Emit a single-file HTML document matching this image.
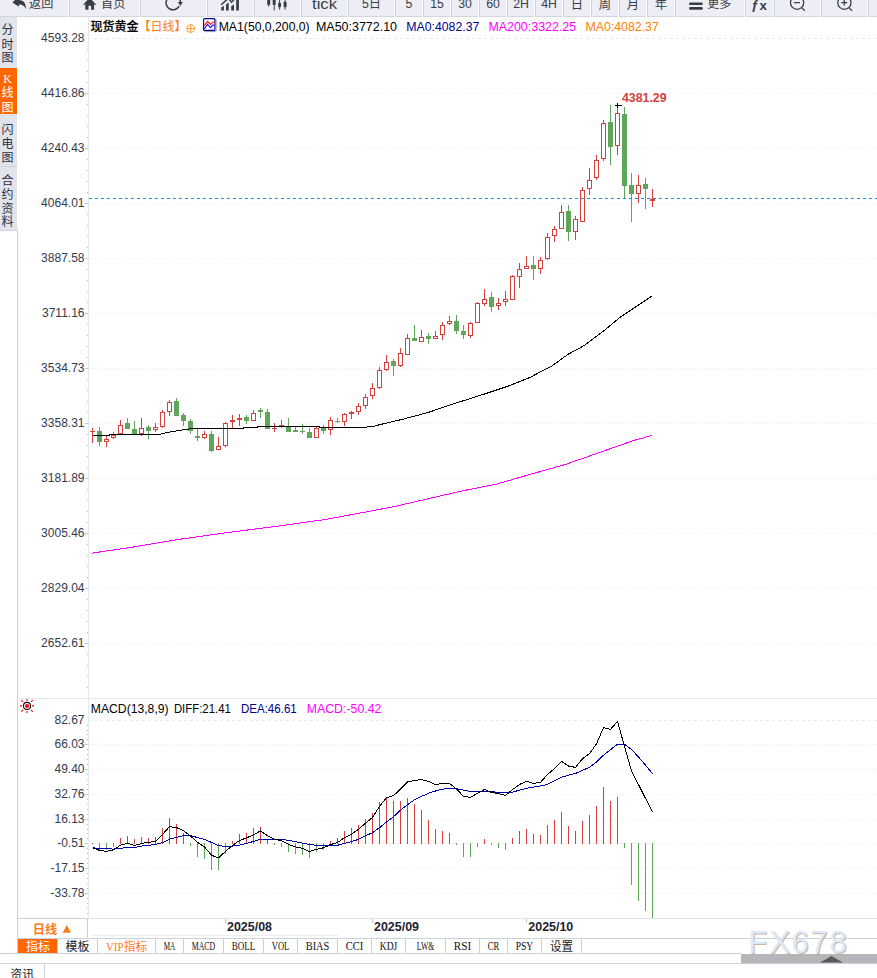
<!DOCTYPE html>
<html lang="zh"><head><meta charset="utf-8"><title>现货黄金 日线</title>
<style>html,body{margin:0;padding:0;background:#fff;overflow:hidden}svg{display:block}text{white-space:pre}</style></head>
<body>
<svg width="877" height="978" viewBox="0 0 877 978">
<rect x="0" y="0" width="877" height="978" fill="#fff"/>
<g shape-rendering="crispEdges">
<rect x="0" y="0" width="877" height="16" fill="#ecedf5"/>
<rect x="0" y="16" width="877" height="1" fill="#d3d6df"/>
<rect x="68" y="0" width="1" height="17" fill="#fbfbfd"/>
<rect x="69" y="0" width="1" height="16" fill="#cfd2db"/>
<rect x="139" y="0" width="1" height="17" fill="#fbfbfd"/>
<rect x="140" y="0" width="1" height="16" fill="#cfd2db"/>
<rect x="206" y="0" width="1" height="17" fill="#fbfbfd"/>
<rect x="207" y="0" width="1" height="16" fill="#cfd2db"/>
<rect x="253" y="0" width="1" height="17" fill="#fbfbfd"/>
<rect x="254" y="0" width="1" height="16" fill="#cfd2db"/>
<rect x="300" y="0" width="1" height="17" fill="#fbfbfd"/>
<rect x="301" y="0" width="1" height="16" fill="#cfd2db"/>
<rect x="347" y="0" width="1" height="17" fill="#fbfbfd"/>
<rect x="348" y="0" width="1" height="16" fill="#cfd2db"/>
<rect x="394" y="0" width="1" height="17" fill="#fbfbfd"/>
<rect x="395" y="0" width="1" height="16" fill="#cfd2db"/>
<rect x="422" y="0" width="1" height="17" fill="#fbfbfd"/>
<rect x="423" y="0" width="1" height="16" fill="#cfd2db"/>
<rect x="450" y="0" width="1" height="17" fill="#fbfbfd"/>
<rect x="451" y="0" width="1" height="16" fill="#cfd2db"/>
<rect x="478" y="0" width="1" height="17" fill="#fbfbfd"/>
<rect x="479" y="0" width="1" height="16" fill="#cfd2db"/>
<rect x="506" y="0" width="1" height="17" fill="#fbfbfd"/>
<rect x="507" y="0" width="1" height="16" fill="#cfd2db"/>
<rect x="534" y="0" width="1" height="17" fill="#fbfbfd"/>
<rect x="535" y="0" width="1" height="16" fill="#cfd2db"/>
<rect x="562" y="0" width="1" height="17" fill="#fbfbfd"/>
<rect x="563" y="0" width="1" height="16" fill="#cfd2db"/>
<rect x="590" y="0" width="1" height="17" fill="#fbfbfd"/>
<rect x="591" y="0" width="1" height="16" fill="#cfd2db"/>
<rect x="618" y="0" width="1" height="17" fill="#fbfbfd"/>
<rect x="619" y="0" width="1" height="16" fill="#cfd2db"/>
<rect x="646" y="0" width="1" height="17" fill="#fbfbfd"/>
<rect x="647" y="0" width="1" height="16" fill="#cfd2db"/>
<rect x="674" y="0" width="1" height="17" fill="#fbfbfd"/>
<rect x="675" y="0" width="1" height="16" fill="#cfd2db"/>
<rect x="744" y="0" width="1" height="17" fill="#fbfbfd"/>
<rect x="745" y="0" width="1" height="16" fill="#cfd2db"/>
<rect x="773" y="0" width="1" height="17" fill="#fbfbfd"/>
<rect x="774" y="0" width="1" height="16" fill="#cfd2db"/>
<rect x="820" y="0" width="1" height="17" fill="#fbfbfd"/>
<rect x="821" y="0" width="1" height="16" fill="#cfd2db"/>
<rect x="867" y="0" width="1" height="17" fill="#fbfbfd"/>
<rect x="868" y="0" width="1" height="16" fill="#cfd2db"/>
<rect x="0" y="17" width="17" height="213" fill="#e2e4ec"/>
<rect x="0" y="68" width="17" height="46" fill="#ff6600"/>
<rect x="0" y="166" width="17" height="1" fill="#d0d3dc"/>
<rect x="0" y="230" width="17" height="1" fill="#d0d3dc"/>
<rect x="17" y="230" width="1" height="724" fill="#c9d1da"/>
<rect x="88" y="17" width="1" height="902" fill="#e3e9f0"/>
<line x1="89" y1="38.5" x2="877" y2="38.5" stroke="#e3ebf1" stroke-width="1" stroke-dasharray="3 3" stroke-dashoffset="1"/>
<line x1="89" y1="93.5" x2="877" y2="93.5" stroke="#e6ebf0" stroke-width="1" stroke-dasharray="1 2"/>
<line x1="89" y1="148.5" x2="877" y2="148.5" stroke="#e6ebf0" stroke-width="1" stroke-dasharray="1 2"/>
<line x1="89" y1="203.5" x2="877" y2="203.5" stroke="#e6ebf0" stroke-width="1" stroke-dasharray="1 2"/>
<line x1="89" y1="258.5" x2="877" y2="258.5" stroke="#e6ebf0" stroke-width="1" stroke-dasharray="1 2"/>
<line x1="89" y1="313.5" x2="877" y2="313.5" stroke="#e6ebf0" stroke-width="1" stroke-dasharray="1 2"/>
<line x1="89" y1="368.5" x2="877" y2="368.5" stroke="#e6ebf0" stroke-width="1" stroke-dasharray="1 2"/>
<line x1="89" y1="423.5" x2="877" y2="423.5" stroke="#e6ebf0" stroke-width="1" stroke-dasharray="1 2"/>
<line x1="89" y1="478.5" x2="877" y2="478.5" stroke="#e6ebf0" stroke-width="1" stroke-dasharray="1 2"/>
<line x1="89" y1="533.5" x2="877" y2="533.5" stroke="#e6ebf0" stroke-width="1" stroke-dasharray="1 2"/>
<line x1="89" y1="588.5" x2="877" y2="588.5" stroke="#e6ebf0" stroke-width="1" stroke-dasharray="1 2"/>
<line x1="89" y1="643.5" x2="877" y2="643.5" stroke="#e6ebf0" stroke-width="1" stroke-dasharray="1 2"/>
<rect x="85" y="93" width="3" height="1" fill="#c3c9d2"/>
<rect x="85" y="148" width="3" height="1" fill="#c3c9d2"/>
<rect x="85" y="203" width="3" height="1" fill="#c3c9d2"/>
<rect x="85" y="258" width="3" height="1" fill="#c3c9d2"/>
<rect x="85" y="313" width="3" height="1" fill="#c3c9d2"/>
<rect x="85" y="368" width="3" height="1" fill="#c3c9d2"/>
<rect x="85" y="423" width="3" height="1" fill="#c3c9d2"/>
<rect x="85" y="478" width="3" height="1" fill="#c3c9d2"/>
<rect x="85" y="533" width="3" height="1" fill="#c3c9d2"/>
<rect x="85" y="588" width="3" height="1" fill="#c3c9d2"/>
<rect x="85" y="643" width="3" height="1" fill="#c3c9d2"/>
<rect x="87" y="49" width="1" height="1" fill="#b4bbc7"/>
<rect x="87" y="60" width="1" height="1" fill="#b4bbc7"/>
<rect x="87" y="71" width="1" height="1" fill="#b4bbc7"/>
<rect x="87" y="82" width="1" height="1" fill="#b4bbc7"/>
<rect x="87" y="104" width="1" height="1" fill="#b4bbc7"/>
<rect x="87" y="115" width="1" height="1" fill="#b4bbc7"/>
<rect x="87" y="126" width="1" height="1" fill="#b4bbc7"/>
<rect x="87" y="137" width="1" height="1" fill="#b4bbc7"/>
<rect x="87" y="159" width="1" height="1" fill="#b4bbc7"/>
<rect x="87" y="170" width="1" height="1" fill="#b4bbc7"/>
<rect x="87" y="181" width="1" height="1" fill="#b4bbc7"/>
<rect x="87" y="192" width="1" height="1" fill="#b4bbc7"/>
<rect x="87" y="214" width="1" height="1" fill="#b4bbc7"/>
<rect x="87" y="225" width="1" height="1" fill="#b4bbc7"/>
<rect x="87" y="236" width="1" height="1" fill="#b4bbc7"/>
<rect x="87" y="247" width="1" height="1" fill="#b4bbc7"/>
<rect x="87" y="269" width="1" height="1" fill="#b4bbc7"/>
<rect x="87" y="280" width="1" height="1" fill="#b4bbc7"/>
<rect x="87" y="291" width="1" height="1" fill="#b4bbc7"/>
<rect x="87" y="302" width="1" height="1" fill="#b4bbc7"/>
<rect x="87" y="324" width="1" height="1" fill="#b4bbc7"/>
<rect x="87" y="335" width="1" height="1" fill="#b4bbc7"/>
<rect x="87" y="346" width="1" height="1" fill="#b4bbc7"/>
<rect x="87" y="357" width="1" height="1" fill="#b4bbc7"/>
<rect x="87" y="379" width="1" height="1" fill="#b4bbc7"/>
<rect x="87" y="390" width="1" height="1" fill="#b4bbc7"/>
<rect x="87" y="401" width="1" height="1" fill="#b4bbc7"/>
<rect x="87" y="412" width="1" height="1" fill="#b4bbc7"/>
<rect x="87" y="434" width="1" height="1" fill="#b4bbc7"/>
<rect x="87" y="445" width="1" height="1" fill="#b4bbc7"/>
<rect x="87" y="456" width="1" height="1" fill="#b4bbc7"/>
<rect x="87" y="467" width="1" height="1" fill="#b4bbc7"/>
<rect x="87" y="489" width="1" height="1" fill="#b4bbc7"/>
<rect x="87" y="500" width="1" height="1" fill="#b4bbc7"/>
<rect x="87" y="511" width="1" height="1" fill="#b4bbc7"/>
<rect x="87" y="522" width="1" height="1" fill="#b4bbc7"/>
<rect x="87" y="544" width="1" height="1" fill="#b4bbc7"/>
<rect x="87" y="555" width="1" height="1" fill="#b4bbc7"/>
<rect x="87" y="566" width="1" height="1" fill="#b4bbc7"/>
<rect x="87" y="577" width="1" height="1" fill="#b4bbc7"/>
<rect x="87" y="599" width="1" height="1" fill="#b4bbc7"/>
<rect x="87" y="610" width="1" height="1" fill="#b4bbc7"/>
<rect x="87" y="621" width="1" height="1" fill="#b4bbc7"/>
<rect x="87" y="632" width="1" height="1" fill="#b4bbc7"/>
<rect x="87" y="654" width="1" height="1" fill="#b4bbc7"/>
<rect x="87" y="665" width="1" height="1" fill="#b4bbc7"/>
<rect x="87" y="676" width="1" height="1" fill="#b4bbc7"/>
<rect x="87" y="687" width="1" height="1" fill="#b4bbc7"/>
<rect x="18" y="698" width="859" height="1" fill="#e0e6ee"/>
<line x1="89" y1="720.5" x2="877" y2="720.5" stroke="#e3ebf1" stroke-width="1" stroke-dasharray="3 3" stroke-dashoffset="1"/>
<line x1="89" y1="744.5" x2="877" y2="744.5" stroke="#e6ebf0" stroke-width="1" stroke-dasharray="1 2"/>
<line x1="89" y1="769.5" x2="877" y2="769.5" stroke="#e6ebf0" stroke-width="1" stroke-dasharray="1 2"/>
<line x1="89" y1="794.5" x2="877" y2="794.5" stroke="#e6ebf0" stroke-width="1" stroke-dasharray="1 2"/>
<line x1="89" y1="819.5" x2="877" y2="819.5" stroke="#e6ebf0" stroke-width="1" stroke-dasharray="1 2"/>
<line x1="89" y1="843.5" x2="877" y2="843.5" stroke="#e6ebf0" stroke-width="1" stroke-dasharray="1 2"/>
<line x1="89" y1="868.5" x2="877" y2="868.5" stroke="#e6ebf0" stroke-width="1" stroke-dasharray="1 2"/>
<line x1="89" y1="893.5" x2="877" y2="893.5" stroke="#e6ebf0" stroke-width="1" stroke-dasharray="1 2"/>
<rect x="85" y="744" width="3" height="1" fill="#c3c9d2"/>
<rect x="85" y="769" width="3" height="1" fill="#c3c9d2"/>
<rect x="85" y="794" width="3" height="1" fill="#c3c9d2"/>
<rect x="85" y="819" width="3" height="1" fill="#c3c9d2"/>
<rect x="85" y="843" width="3" height="1" fill="#c3c9d2"/>
<rect x="85" y="868" width="3" height="1" fill="#c3c9d2"/>
<rect x="85" y="893" width="3" height="1" fill="#c3c9d2"/>
<rect x="87" y="725" width="1" height="1" fill="#b4bbc7"/>
<rect x="87" y="730" width="1" height="1" fill="#b4bbc7"/>
<rect x="87" y="734" width="1" height="1" fill="#b4bbc7"/>
<rect x="87" y="739" width="1" height="1" fill="#b4bbc7"/>
<rect x="87" y="749" width="1" height="1" fill="#b4bbc7"/>
<rect x="87" y="754" width="1" height="1" fill="#b4bbc7"/>
<rect x="87" y="759" width="1" height="1" fill="#b4bbc7"/>
<rect x="87" y="764" width="1" height="1" fill="#b4bbc7"/>
<rect x="87" y="774" width="1" height="1" fill="#b4bbc7"/>
<rect x="87" y="779" width="1" height="1" fill="#b4bbc7"/>
<rect x="87" y="784" width="1" height="1" fill="#b4bbc7"/>
<rect x="87" y="789" width="1" height="1" fill="#b4bbc7"/>
<rect x="87" y="799" width="1" height="1" fill="#b4bbc7"/>
<rect x="87" y="804" width="1" height="1" fill="#b4bbc7"/>
<rect x="87" y="809" width="1" height="1" fill="#b4bbc7"/>
<rect x="87" y="814" width="1" height="1" fill="#b4bbc7"/>
<rect x="87" y="824" width="1" height="1" fill="#b4bbc7"/>
<rect x="87" y="829" width="1" height="1" fill="#b4bbc7"/>
<rect x="87" y="833" width="1" height="1" fill="#b4bbc7"/>
<rect x="87" y="838" width="1" height="1" fill="#b4bbc7"/>
<rect x="87" y="848" width="1" height="1" fill="#b4bbc7"/>
<rect x="87" y="853" width="1" height="1" fill="#b4bbc7"/>
<rect x="87" y="858" width="1" height="1" fill="#b4bbc7"/>
<rect x="87" y="863" width="1" height="1" fill="#b4bbc7"/>
<rect x="87" y="873" width="1" height="1" fill="#b4bbc7"/>
<rect x="87" y="878" width="1" height="1" fill="#b4bbc7"/>
<rect x="87" y="883" width="1" height="1" fill="#b4bbc7"/>
<rect x="87" y="888" width="1" height="1" fill="#b4bbc7"/>
<rect x="87" y="898" width="1" height="1" fill="#b4bbc7"/>
<rect x="87" y="903" width="1" height="1" fill="#b4bbc7"/>
<rect x="87" y="908" width="1" height="1" fill="#b4bbc7"/>
<rect x="87" y="913" width="1" height="1" fill="#b4bbc7"/>
<rect x="18" y="918" width="70" height="1" fill="#c9d1da"/>
<rect x="88" y="918" width="789" height="1" fill="#dfe6ee"/>
<rect x="87" y="918" width="1" height="20" fill="#c9d1da"/>
<rect x="92" y="935" width="246" height="1" fill="#e9eef3"/>
<rect x="18" y="938" width="859" height="1" fill="#c9d1da"/>
<rect x="0" y="953" width="741" height="1" fill="#c9d1da"/>
<rect x="0" y="963" width="877" height="1" fill="#c9d1da"/>
<rect x="44" y="963" width="1" height="15" fill="#c9d1da"/>
<rect x="741" y="954" width="136" height="9" fill="#b5b5ba"/>
<rect x="225" y="919" width="1" height="4" fill="#c3c9d2"/>
<rect x="372" y="919" width="1" height="4" fill="#c3c9d2"/>
<rect x="526" y="919" width="1" height="4" fill="#c3c9d2"/>
<rect x="18" y="939" width="39" height="14" fill="#ff6600"/>
<rect x="57" y="939" width="1" height="14" fill="#c9d1da"/>
<rect x="97" y="939" width="1" height="14" fill="#c9d1da"/>
<rect x="155" y="939" width="1" height="14" fill="#c9d1da"/>
<rect x="183" y="939" width="1" height="14" fill="#c9d1da"/>
<rect x="223" y="939" width="1" height="14" fill="#c9d1da"/>
<rect x="263" y="939" width="1" height="14" fill="#c9d1da"/>
<rect x="297" y="939" width="1" height="14" fill="#c9d1da"/>
<rect x="337" y="939" width="1" height="14" fill="#c9d1da"/>
<rect x="371" y="939" width="1" height="14" fill="#c9d1da"/>
<rect x="405" y="939" width="1" height="14" fill="#c9d1da"/>
<rect x="445" y="939" width="1" height="14" fill="#c9d1da"/>
<rect x="479" y="939" width="1" height="14" fill="#c9d1da"/>
<rect x="507" y="939" width="1" height="14" fill="#c9d1da"/>
<rect x="541" y="939" width="1" height="14" fill="#c9d1da"/>
<rect x="581" y="939" width="1" height="14" fill="#c9d1da"/>
<polyline fill="none" stroke="#ff00ff" stroke-width="1" points="92.0,553.1 132.9,547.1 180.8,539.1 228.7,532.4 276.6,526.3 324.5,519.6 360.0,513.1 394.2,506.6 428.4,498.7 462.6,490.8 496.8,484.0 531.1,474.1 565.3,464.5 599.5,452.5 633.7,440.5 652.0,435.4"/>
<rect x="92" y="428" width="1" height="15" fill="#d5403c"/>
<rect x="90" y="431" width="5" height="1" fill="#d5403c"/>
<rect x="99" y="427" width="1" height="19" fill="#5fa55a"/>
<rect x="97" y="431" width="5" height="11" fill="#5fa55a"/>
<rect x="106" y="436" width="1" height="11" fill="#d5403c"/>
<rect x="104" y="439" width="5" height="3" fill="#d5403c"/>
<rect x="105" y="440" width="3" height="1" fill="#fff"/>
<rect x="113" y="432" width="1" height="7" fill="#d5403c"/>
<rect x="111" y="435" width="5" height="3" fill="#d5403c"/>
<rect x="112" y="436" width="3" height="1" fill="#fff"/>
<rect x="120" y="420" width="1" height="14" fill="#d5403c"/>
<rect x="118" y="425" width="5" height="9" fill="#d5403c"/>
<rect x="119" y="426" width="3" height="7" fill="#fff"/>
<rect x="127" y="418" width="1" height="11" fill="#5fa55a"/>
<rect x="125" y="423" width="5" height="6" fill="#5fa55a"/>
<rect x="134" y="421" width="1" height="13" fill="#5fa55a"/>
<rect x="132" y="429" width="5" height="5" fill="#5fa55a"/>
<rect x="141" y="418" width="1" height="18" fill="#d5403c"/>
<rect x="139" y="428" width="5" height="6" fill="#d5403c"/>
<rect x="140" y="429" width="3" height="4" fill="#fff"/>
<rect x="148" y="425" width="1" height="14" fill="#5fa55a"/>
<rect x="146" y="427" width="5" height="4" fill="#5fa55a"/>
<rect x="155" y="423" width="1" height="9" fill="#d5403c"/>
<rect x="153" y="427" width="5" height="3" fill="#d5403c"/>
<rect x="154" y="428" width="3" height="1" fill="#fff"/>
<rect x="162" y="410" width="1" height="18" fill="#d5403c"/>
<rect x="160" y="412" width="5" height="15" fill="#d5403c"/>
<rect x="161" y="413" width="3" height="13" fill="#fff"/>
<rect x="169" y="400" width="1" height="16" fill="#d5403c"/>
<rect x="167" y="402" width="5" height="10" fill="#d5403c"/>
<rect x="168" y="403" width="3" height="8" fill="#fff"/>
<rect x="176" y="398" width="1" height="18" fill="#5fa55a"/>
<rect x="174" y="401" width="5" height="15" fill="#5fa55a"/>
<rect x="183" y="413" width="1" height="13" fill="#5fa55a"/>
<rect x="181" y="415" width="5" height="6" fill="#5fa55a"/>
<rect x="190" y="419" width="1" height="15" fill="#5fa55a"/>
<rect x="188" y="421" width="5" height="10" fill="#5fa55a"/>
<rect x="197" y="428" width="1" height="13" fill="#5fa55a"/>
<rect x="195" y="436" width="5" height="2" fill="#5fa55a"/>
<rect x="204" y="431" width="1" height="8" fill="#d5403c"/>
<rect x="202" y="434" width="5" height="4" fill="#d5403c"/>
<rect x="203" y="435" width="3" height="2" fill="#fff"/>
<rect x="211" y="431" width="1" height="21" fill="#5fa55a"/>
<rect x="209" y="434" width="5" height="17" fill="#5fa55a"/>
<rect x="218" y="437" width="1" height="13" fill="#d5403c"/>
<rect x="216" y="446" width="5" height="4" fill="#d5403c"/>
<rect x="217" y="447" width="3" height="2" fill="#fff"/>
<rect x="225" y="422" width="1" height="25" fill="#d5403c"/>
<rect x="223" y="423" width="5" height="23" fill="#d5403c"/>
<rect x="224" y="424" width="3" height="21" fill="#fff"/>
<rect x="232" y="415" width="1" height="13" fill="#d5403c"/>
<rect x="230" y="420" width="5" height="2" fill="#d5403c"/>
<rect x="239" y="414" width="1" height="12" fill="#d5403c"/>
<rect x="237" y="418" width="5" height="2" fill="#d5403c"/>
<rect x="246" y="415" width="1" height="9" fill="#5fa55a"/>
<rect x="244" y="417" width="5" height="4" fill="#5fa55a"/>
<rect x="253" y="410" width="1" height="11" fill="#d5403c"/>
<rect x="251" y="413" width="5" height="8" fill="#d5403c"/>
<rect x="252" y="414" width="3" height="6" fill="#fff"/>
<rect x="260" y="408" width="1" height="10" fill="#5fa55a"/>
<rect x="258" y="410" width="5" height="2" fill="#5fa55a"/>
<rect x="267" y="409" width="1" height="20" fill="#5fa55a"/>
<rect x="265" y="412" width="5" height="17" fill="#5fa55a"/>
<rect x="274" y="423" width="1" height="9" fill="#d5403c"/>
<rect x="272" y="428" width="5" height="1" fill="#d5403c"/>
<rect x="281" y="420" width="1" height="8" fill="#d5403c"/>
<rect x="279" y="425" width="5" height="1" fill="#d5403c"/>
<rect x="288" y="418" width="1" height="14" fill="#5fa55a"/>
<rect x="286" y="426" width="5" height="6" fill="#5fa55a"/>
<rect x="295" y="427" width="1" height="5" fill="#5fa55a"/>
<rect x="293" y="430" width="5" height="2" fill="#5fa55a"/>
<rect x="302" y="424" width="1" height="10" fill="#5fa55a"/>
<rect x="300" y="431" width="5" height="1" fill="#5fa55a"/>
<rect x="309" y="428" width="1" height="10" fill="#5fa55a"/>
<rect x="307" y="432" width="5" height="6" fill="#5fa55a"/>
<rect x="316" y="427" width="1" height="11" fill="#d5403c"/>
<rect x="314" y="428" width="5" height="10" fill="#d5403c"/>
<rect x="315" y="429" width="3" height="8" fill="#fff"/>
<rect x="323" y="425" width="1" height="9" fill="#5fa55a"/>
<rect x="321" y="428" width="5" height="3" fill="#5fa55a"/>
<rect x="330" y="417" width="1" height="18" fill="#d5403c"/>
<rect x="328" y="420" width="5" height="10" fill="#d5403c"/>
<rect x="329" y="421" width="3" height="8" fill="#fff"/>
<rect x="337" y="418" width="1" height="5" fill="#5fa55a"/>
<rect x="335" y="421" width="5" height="1" fill="#5fa55a"/>
<rect x="344" y="413" width="1" height="13" fill="#d5403c"/>
<rect x="342" y="414" width="5" height="8" fill="#d5403c"/>
<rect x="343" y="415" width="3" height="6" fill="#fff"/>
<rect x="351" y="411" width="1" height="8" fill="#d5403c"/>
<rect x="349" y="412" width="5" height="2" fill="#d5403c"/>
<rect x="358" y="403" width="1" height="12" fill="#d5403c"/>
<rect x="356" y="406" width="5" height="6" fill="#d5403c"/>
<rect x="357" y="407" width="3" height="4" fill="#fff"/>
<rect x="365" y="394" width="1" height="15" fill="#d5403c"/>
<rect x="363" y="397" width="5" height="9" fill="#d5403c"/>
<rect x="364" y="398" width="3" height="7" fill="#fff"/>
<rect x="372" y="383" width="1" height="16" fill="#d5403c"/>
<rect x="370" y="388" width="5" height="8" fill="#d5403c"/>
<rect x="371" y="389" width="3" height="6" fill="#fff"/>
<rect x="379" y="367" width="1" height="22" fill="#d5403c"/>
<rect x="377" y="370" width="5" height="18" fill="#d5403c"/>
<rect x="378" y="371" width="3" height="16" fill="#fff"/>
<rect x="386" y="355" width="1" height="16" fill="#d5403c"/>
<rect x="384" y="362" width="5" height="8" fill="#d5403c"/>
<rect x="385" y="363" width="3" height="6" fill="#fff"/>
<rect x="393" y="359" width="1" height="17" fill="#5fa55a"/>
<rect x="391" y="361" width="5" height="5" fill="#5fa55a"/>
<rect x="400" y="348" width="1" height="19" fill="#d5403c"/>
<rect x="398" y="353" width="5" height="13" fill="#d5403c"/>
<rect x="399" y="354" width="3" height="11" fill="#fff"/>
<rect x="407" y="334" width="1" height="21" fill="#d5403c"/>
<rect x="405" y="338" width="5" height="17" fill="#d5403c"/>
<rect x="406" y="339" width="3" height="15" fill="#fff"/>
<rect x="414" y="325" width="1" height="16" fill="#5fa55a"/>
<rect x="412" y="338" width="5" height="3" fill="#5fa55a"/>
<rect x="421" y="330" width="1" height="12" fill="#d5403c"/>
<rect x="419" y="337" width="5" height="5" fill="#d5403c"/>
<rect x="420" y="338" width="3" height="3" fill="#fff"/>
<rect x="428" y="333" width="1" height="11" fill="#5fa55a"/>
<rect x="426" y="336" width="5" height="3" fill="#5fa55a"/>
<rect x="435" y="331" width="1" height="8" fill="#d5403c"/>
<rect x="433" y="336" width="5" height="3" fill="#d5403c"/>
<rect x="434" y="337" width="3" height="1" fill="#fff"/>
<rect x="442" y="322" width="1" height="18" fill="#d5403c"/>
<rect x="440" y="325" width="5" height="10" fill="#d5403c"/>
<rect x="441" y="326" width="3" height="8" fill="#fff"/>
<rect x="449" y="316" width="1" height="9" fill="#d5403c"/>
<rect x="447" y="321" width="5" height="3" fill="#d5403c"/>
<rect x="448" y="322" width="3" height="1" fill="#fff"/>
<rect x="456" y="315" width="1" height="19" fill="#5fa55a"/>
<rect x="454" y="321" width="5" height="10" fill="#5fa55a"/>
<rect x="463" y="325" width="1" height="14" fill="#5fa55a"/>
<rect x="461" y="331" width="5" height="4" fill="#5fa55a"/>
<rect x="470" y="322" width="1" height="16" fill="#d5403c"/>
<rect x="468" y="323" width="5" height="13" fill="#d5403c"/>
<rect x="469" y="324" width="3" height="11" fill="#fff"/>
<rect x="477" y="302" width="1" height="21" fill="#d5403c"/>
<rect x="475" y="303" width="5" height="20" fill="#d5403c"/>
<rect x="476" y="304" width="3" height="18" fill="#fff"/>
<rect x="484" y="289" width="1" height="17" fill="#d5403c"/>
<rect x="482" y="299" width="5" height="5" fill="#d5403c"/>
<rect x="483" y="300" width="3" height="3" fill="#fff"/>
<rect x="491" y="292" width="1" height="20" fill="#5fa55a"/>
<rect x="489" y="297" width="5" height="10" fill="#5fa55a"/>
<rect x="498" y="298" width="1" height="12" fill="#d5403c"/>
<rect x="496" y="303" width="5" height="3" fill="#d5403c"/>
<rect x="497" y="304" width="3" height="1" fill="#fff"/>
<rect x="505" y="291" width="1" height="15" fill="#d5403c"/>
<rect x="503" y="299" width="5" height="3" fill="#d5403c"/>
<rect x="504" y="300" width="3" height="1" fill="#fff"/>
<rect x="512" y="275" width="1" height="25" fill="#d5403c"/>
<rect x="510" y="276" width="5" height="24" fill="#d5403c"/>
<rect x="511" y="277" width="3" height="22" fill="#fff"/>
<rect x="519" y="263" width="1" height="25" fill="#d5403c"/>
<rect x="517" y="269" width="5" height="8" fill="#d5403c"/>
<rect x="518" y="270" width="3" height="6" fill="#fff"/>
<rect x="526" y="256" width="1" height="13" fill="#d5403c"/>
<rect x="524" y="266" width="5" height="3" fill="#d5403c"/>
<rect x="525" y="267" width="3" height="1" fill="#fff"/>
<rect x="533" y="256" width="1" height="24" fill="#5fa55a"/>
<rect x="531" y="265" width="5" height="4" fill="#5fa55a"/>
<rect x="540" y="257" width="1" height="17" fill="#d5403c"/>
<rect x="538" y="260" width="5" height="9" fill="#d5403c"/>
<rect x="539" y="261" width="3" height="7" fill="#fff"/>
<rect x="547" y="233" width="1" height="27" fill="#d5403c"/>
<rect x="545" y="237" width="5" height="22" fill="#d5403c"/>
<rect x="546" y="238" width="3" height="20" fill="#fff"/>
<rect x="554" y="226" width="1" height="16" fill="#d5403c"/>
<rect x="552" y="229" width="5" height="7" fill="#d5403c"/>
<rect x="553" y="230" width="3" height="5" fill="#fff"/>
<rect x="561" y="205" width="1" height="24" fill="#d5403c"/>
<rect x="559" y="212" width="5" height="17" fill="#d5403c"/>
<rect x="560" y="213" width="3" height="15" fill="#fff"/>
<rect x="568" y="205" width="1" height="36" fill="#5fa55a"/>
<rect x="566" y="211" width="5" height="21" fill="#5fa55a"/>
<rect x="575" y="216" width="1" height="24" fill="#d5403c"/>
<rect x="573" y="219" width="5" height="13" fill="#d5403c"/>
<rect x="574" y="220" width="3" height="11" fill="#fff"/>
<rect x="582" y="187" width="1" height="35" fill="#d5403c"/>
<rect x="580" y="190" width="5" height="32" fill="#d5403c"/>
<rect x="581" y="191" width="3" height="30" fill="#fff"/>
<rect x="589" y="168" width="1" height="27" fill="#d5403c"/>
<rect x="587" y="180" width="5" height="9" fill="#d5403c"/>
<rect x="588" y="181" width="3" height="7" fill="#fff"/>
<rect x="596" y="155" width="1" height="25" fill="#d5403c"/>
<rect x="594" y="160" width="5" height="18" fill="#d5403c"/>
<rect x="595" y="161" width="3" height="16" fill="#fff"/>
<rect x="603" y="120" width="1" height="41" fill="#d5403c"/>
<rect x="601" y="123" width="5" height="36" fill="#d5403c"/>
<rect x="602" y="124" width="3" height="34" fill="#fff"/>
<rect x="610" y="105" width="1" height="60" fill="#5fa55a"/>
<rect x="608" y="122" width="5" height="25" fill="#5fa55a"/>
<rect x="617" y="106" width="1" height="49" fill="#d5403c"/>
<rect x="615" y="113" width="5" height="33" fill="#d5403c"/>
<rect x="616" y="114" width="3" height="31" fill="#fff"/>
<rect x="624" y="107" width="1" height="92" fill="#5fa55a"/>
<rect x="622" y="114" width="5" height="72" fill="#5fa55a"/>
<rect x="631" y="173" width="1" height="49" fill="#5fa55a"/>
<rect x="629" y="185" width="5" height="9" fill="#5fa55a"/>
<rect x="638" y="175" width="1" height="28" fill="#d5403c"/>
<rect x="636" y="185" width="5" height="9" fill="#d5403c"/>
<rect x="637" y="186" width="3" height="7" fill="#fff"/>
<rect x="645" y="178" width="1" height="31" fill="#5fa55a"/>
<rect x="643" y="184" width="5" height="5" fill="#5fa55a"/>
<rect x="652" y="189" width="1" height="18" fill="#d5403c"/>
<rect x="650" y="199" width="5" height="2" fill="#d5403c"/>
<polyline fill="none" stroke="#000" stroke-width="1" points="92.5,435.4 109.0,435.4 110.0,434.6 159.0,434.5 166.0,432.7 173.0,431.4 181.0,430.2 188.0,429.1 195.0,428.5 243.0,428.3 244.0,427.5 257.0,427.4 258.0,426.5 300.0,426.5 319.0,426.6 320.0,427.4 362.0,427.4 373.0,426.5 380.0,424.6 403.0,419.2 428.0,412.5 456.6,402.9 485.4,393.7 507.7,386.3 530.0,377.4 552.4,365.6 568.4,354.1 584.3,345.5 603.5,331.1 619.5,317.7 635.4,307.1 652.0,296.0"/>
<line x1="89" y1="198.5" x2="877" y2="198.5" stroke="#1a8cff" stroke-width="1" stroke-dasharray="3 3"/>
<rect x="615" y="105" width="7" height="1" fill="#000"/>
<rect x="617" y="103" width="1" height="5" fill="#000"/>
<rect x="92" y="843" width="1" height="1" fill="#d5403c"/>
<rect x="99" y="843" width="1" height="7" fill="#5fa55a"/>
<rect x="106" y="843" width="1" height="7" fill="#5fa55a"/>
<rect x="113" y="843" width="1" height="4" fill="#5fa55a"/>
<rect x="120" y="838" width="1" height="6" fill="#d5403c"/>
<rect x="127" y="836" width="1" height="8" fill="#d5403c"/>
<rect x="134" y="839" width="1" height="5" fill="#d5403c"/>
<rect x="141" y="837" width="1" height="7" fill="#d5403c"/>
<rect x="148" y="838" width="1" height="6" fill="#d5403c"/>
<rect x="155" y="837" width="1" height="7" fill="#d5403c"/>
<rect x="162" y="828" width="1" height="16" fill="#d5403c"/>
<rect x="169" y="818" width="1" height="26" fill="#d5403c"/>
<rect x="176" y="824" width="1" height="20" fill="#d5403c"/>
<rect x="183" y="833" width="1" height="11" fill="#d5403c"/>
<rect x="190" y="843" width="1" height="3" fill="#5fa55a"/>
<rect x="197" y="843" width="1" height="14" fill="#5fa55a"/>
<rect x="204" y="843" width="1" height="16" fill="#5fa55a"/>
<rect x="211" y="843" width="1" height="27" fill="#5fa55a"/>
<rect x="218" y="843" width="1" height="27" fill="#5fa55a"/>
<rect x="225" y="843" width="1" height="11" fill="#5fa55a"/>
<rect x="232" y="841" width="1" height="3" fill="#d5403c"/>
<rect x="239" y="834" width="1" height="10" fill="#d5403c"/>
<rect x="246" y="833" width="1" height="11" fill="#d5403c"/>
<rect x="253" y="828" width="1" height="16" fill="#d5403c"/>
<rect x="260" y="827" width="1" height="17" fill="#d5403c"/>
<rect x="267" y="839" width="1" height="5" fill="#d5403c"/>
<rect x="274" y="843" width="1" height="2" fill="#5fa55a"/>
<rect x="281" y="843" width="1" height="4" fill="#5fa55a"/>
<rect x="288" y="843" width="1" height="9" fill="#5fa55a"/>
<rect x="295" y="843" width="1" height="11" fill="#5fa55a"/>
<rect x="302" y="843" width="1" height="12" fill="#5fa55a"/>
<rect x="309" y="843" width="1" height="15" fill="#5fa55a"/>
<rect x="316" y="843" width="1" height="9" fill="#5fa55a"/>
<rect x="323" y="843" width="1" height="7" fill="#5fa55a"/>
<rect x="330" y="841" width="1" height="3" fill="#d5403c"/>
<rect x="337" y="838" width="1" height="6" fill="#d5403c"/>
<rect x="344" y="831" width="1" height="13" fill="#d5403c"/>
<rect x="351" y="828" width="1" height="16" fill="#d5403c"/>
<rect x="358" y="825" width="1" height="19" fill="#d5403c"/>
<rect x="365" y="819" width="1" height="25" fill="#d5403c"/>
<rect x="372" y="813" width="1" height="31" fill="#d5403c"/>
<rect x="379" y="802" width="1" height="42" fill="#d5403c"/>
<rect x="386" y="798" width="1" height="46" fill="#d5403c"/>
<rect x="393" y="801" width="1" height="43" fill="#d5403c"/>
<rect x="400" y="801" width="1" height="43" fill="#d5403c"/>
<rect x="407" y="798" width="1" height="46" fill="#d5403c"/>
<rect x="414" y="804" width="1" height="40" fill="#d5403c"/>
<rect x="421" y="810" width="1" height="34" fill="#d5403c"/>
<rect x="428" y="820" width="1" height="24" fill="#d5403c"/>
<rect x="435" y="829" width="1" height="15" fill="#d5403c"/>
<rect x="442" y="831" width="1" height="13" fill="#d5403c"/>
<rect x="449" y="833" width="1" height="11" fill="#d5403c"/>
<rect x="456" y="843" width="1" height="2" fill="#5fa55a"/>
<rect x="463" y="843" width="1" height="14" fill="#5fa55a"/>
<rect x="470" y="843" width="1" height="14" fill="#5fa55a"/>
<rect x="477" y="843" width="1" height="4" fill="#5fa55a"/>
<rect x="484" y="839" width="1" height="5" fill="#d5403c"/>
<rect x="491" y="843" width="1" height="2" fill="#5fa55a"/>
<rect x="498" y="843" width="1" height="5" fill="#5fa55a"/>
<rect x="505" y="843" width="1" height="7" fill="#5fa55a"/>
<rect x="512" y="838" width="1" height="6" fill="#d5403c"/>
<rect x="519" y="831" width="1" height="13" fill="#d5403c"/>
<rect x="526" y="829" width="1" height="15" fill="#d5403c"/>
<rect x="533" y="834" width="1" height="10" fill="#d5403c"/>
<rect x="540" y="835" width="1" height="9" fill="#d5403c"/>
<rect x="547" y="825" width="1" height="19" fill="#d5403c"/>
<rect x="554" y="820" width="1" height="24" fill="#d5403c"/>
<rect x="561" y="812" width="1" height="32" fill="#d5403c"/>
<rect x="568" y="826" width="1" height="18" fill="#d5403c"/>
<rect x="575" y="831" width="1" height="13" fill="#d5403c"/>
<rect x="582" y="821" width="1" height="23" fill="#d5403c"/>
<rect x="589" y="815" width="1" height="29" fill="#d5403c"/>
<rect x="596" y="806" width="1" height="38" fill="#d5403c"/>
<rect x="603" y="787" width="1" height="57" fill="#d5403c"/>
<rect x="610" y="801" width="1" height="43" fill="#d5403c"/>
<rect x="617" y="797" width="1" height="47" fill="#d5403c"/>
<rect x="624" y="843" width="1" height="5" fill="#5fa55a"/>
<rect x="631" y="843" width="1" height="42" fill="#5fa55a"/>
<rect x="638" y="843" width="1" height="58" fill="#5fa55a"/>
<rect x="645" y="843" width="1" height="68" fill="#5fa55a"/>
<rect x="652" y="843" width="1" height="75" fill="#5fa55a"/>
<polyline fill="none" stroke="#0000a8" stroke-width="1" points="92.5,847.6 99.5,848.6 106.5,848.6 113.5,849.1 120.5,848.3 127.5,847.4 134.5,847.4 141.5,846.1 148.5,845.4 155.5,844.3 162.5,842.6 169.5,839.1 176.5,837.4 183.5,835.7 190.5,835.5 197.5,837.6 204.5,839.5 211.5,842.4 218.5,845.5 225.5,846.4 232.5,846.1 239.5,845.1 246.5,843.5 253.5,841.4 260.5,839.2 267.5,839.2 274.5,839.2 281.5,839.2 288.5,840.5 295.5,841.6 302.5,843.1 309.5,844.4 316.5,845.3 323.5,845.9 330.5,845.3 337.5,845.3 344.5,843.4 351.5,841.5 358.5,839.4 365.5,835.8 372.5,832.7 379.5,827.7 386.5,822.0 393.5,816.7 400.5,810.2 407.5,804.6 414.5,799.8 421.5,796.4 428.5,793.3 435.5,791.0 442.5,789.2 449.5,788.3 456.5,788.7 463.5,790.2 470.5,791.4 477.5,791.4 484.5,791.2 491.5,791.7 498.5,792.3 505.5,792.5 512.5,792.1 519.5,790.2 526.5,788.3 533.5,787.1 540.5,786.0 547.5,784.3 554.5,780.8 561.5,777.3 568.5,775.1 575.5,773.4 582.5,770.3 589.5,767.3 596.5,762.0 603.5,755.2 610.5,749.7 617.5,744.2 624.5,744.2 631.5,749.5 638.5,757.0 645.5,765.2 652.5,773.6"/>
<polyline fill="none" stroke="#000" stroke-width="1" points="92.5,847.6 99.5,850.4 106.5,851.4 113.5,849.9 120.5,845.1 127.5,843.3 134.5,845.4 141.5,843.5 148.5,842.3 155.5,841.4 162.5,834.5 169.5,826.6 176.5,827.6 183.5,830.7 190.5,835.9 197.5,842.4 204.5,847.0 211.5,855.2 218.5,857.9 225.5,851.4 232.5,845.4 239.5,840.5 246.5,837.9 253.5,834.7 260.5,831.0 267.5,835.7 274.5,839.1 281.5,840.7 288.5,844.3 295.5,846.9 302.5,848.4 309.5,851.5 316.5,849.3 323.5,847.8 330.5,844.6 337.5,842.5 344.5,837.7 351.5,834.2 358.5,829.2 365.5,823.3 372.5,817.4 379.5,806.4 386.5,797.6 393.5,795.7 400.5,789.2 407.5,782.0 414.5,780.4 421.5,779.5 428.5,781.4 435.5,784.5 442.5,783.5 449.5,783.5 456.5,788.9 463.5,796.4 470.5,797.4 477.5,793.3 484.5,789.5 491.5,792.4 498.5,793.6 505.5,795.5 512.5,789.6 519.5,784.5 526.5,781.4 533.5,783.3 540.5,782.3 547.5,774.5 554.5,768.6 561.5,761.3 568.5,766.0 575.5,767.4 582.5,758.8 589.5,753.5 596.5,743.9 603.5,727.6 610.5,729.4 617.5,721.3 624.5,746.4 631.5,770.8 638.5,784.6 645.5,798.4 652.5,811.6"/>
</g>
<text x="84.5" y="41.9" font-size="12" fill="#333b4d" font-family='"Liberation Sans",sans-serif' text-anchor="end" font-weight="normal">4593.28</text>
<text x="84.5" y="96.9" font-size="12" fill="#333b4d" font-family='"Liberation Sans",sans-serif' text-anchor="end" font-weight="normal">4416.86</text>
<text x="84.5" y="151.9" font-size="12" fill="#333b4d" font-family='"Liberation Sans",sans-serif' text-anchor="end" font-weight="normal">4240.43</text>
<text x="84.5" y="206.9" font-size="12" fill="#333b4d" font-family='"Liberation Sans",sans-serif' text-anchor="end" font-weight="normal">4064.01</text>
<text x="84.5" y="261.9" font-size="12" fill="#333b4d" font-family='"Liberation Sans",sans-serif' text-anchor="end" font-weight="normal">3887.58</text>
<text x="84.5" y="316.9" font-size="12" fill="#333b4d" font-family='"Liberation Sans",sans-serif' text-anchor="end" font-weight="normal">3711.16</text>
<text x="84.5" y="371.9" font-size="12" fill="#333b4d" font-family='"Liberation Sans",sans-serif' text-anchor="end" font-weight="normal">3534.73</text>
<text x="84.5" y="426.9" font-size="12" fill="#333b4d" font-family='"Liberation Sans",sans-serif' text-anchor="end" font-weight="normal">3358.31</text>
<text x="84.5" y="481.9" font-size="12" fill="#333b4d" font-family='"Liberation Sans",sans-serif' text-anchor="end" font-weight="normal">3181.89</text>
<text x="84.5" y="536.9" font-size="12" fill="#333b4d" font-family='"Liberation Sans",sans-serif' text-anchor="end" font-weight="normal">3005.46</text>
<text x="84.5" y="591.9" font-size="12" fill="#333b4d" font-family='"Liberation Sans",sans-serif' text-anchor="end" font-weight="normal">2829.04</text>
<text x="84.5" y="646.9" font-size="12" fill="#333b4d" font-family='"Liberation Sans",sans-serif' text-anchor="end" font-weight="normal">2652.61</text>
<text x="84.5" y="723.9" font-size="12" fill="#333b4d" font-family='"Liberation Sans",sans-serif' text-anchor="end" font-weight="normal">82.67</text>
<text x="84.5" y="747.9" font-size="12" fill="#333b4d" font-family='"Liberation Sans",sans-serif' text-anchor="end" font-weight="normal">66.03</text>
<text x="84.5" y="772.9" font-size="12" fill="#333b4d" font-family='"Liberation Sans",sans-serif' text-anchor="end" font-weight="normal">49.40</text>
<text x="84.5" y="797.9" font-size="12" fill="#333b4d" font-family='"Liberation Sans",sans-serif' text-anchor="end" font-weight="normal">32.76</text>
<text x="84.5" y="822.9" font-size="12" fill="#333b4d" font-family='"Liberation Sans",sans-serif' text-anchor="end" font-weight="normal">16.13</text>
<text x="84.5" y="846.9" font-size="12" fill="#333b4d" font-family='"Liberation Sans",sans-serif' text-anchor="end" font-weight="normal">-0.51</text>
<text x="84.5" y="871.9" font-size="12" fill="#333b4d" font-family='"Liberation Sans",sans-serif' text-anchor="end" font-weight="normal">-17.15</text>
<text x="84.5" y="896.9" font-size="12" fill="#333b4d" font-family='"Liberation Sans",sans-serif' text-anchor="end" font-weight="normal">-33.78</text>
<text x="90.5" y="30.6" font-size="12" fill="#000" font-family='"Liberation Sans","Noto Sans CJK SC",sans-serif' text-anchor="start" font-weight="500" textLength="48" lengthAdjust="spacingAndGlyphs" stroke="#000" stroke-width="0.2">现货黄金</text>
<text x="138.5" y="30.6" font-size="12" fill="#ff7a1a" font-family='"Liberation Sans","Noto Sans CJK SC",sans-serif' text-anchor="start" font-weight="normal" textLength="48" lengthAdjust="spacingAndGlyphs">【日线】</text>
<g fill="none" stroke="#ff8c1a" stroke-width="0.85"><circle cx="190.7" cy="28.5" r="4"/><path d="M186.7 28.5h8M190.7 24.5v8"/></g>
<g fill="none"><rect x="204.2" y="19.2" width="12" height="12.4" rx="1" stroke="#9a9aa8" stroke-width="1"/><rect x="203.6" y="18.6" width="11.3" height="11.8" rx="1" fill="#fff" stroke="#00008b" stroke-width="1.1"/><path d="M204.3 25.6L207.5 21.3L210.5 24.5L212.8 22.2H214.3" stroke="#ff1010" stroke-width="1.1"/><path d="M204.3 28.9L207.5 24.4L210.5 27.6L212.8 25.1H214.3" stroke="#1414e0" stroke-width="1.1"/></g>
<text x="218.7" y="30.6" font-size="12.5" fill="#000" font-family='"Liberation Sans",sans-serif' text-anchor="start" font-weight="normal" textLength="91" lengthAdjust="spacingAndGlyphs">MA1(50,0,200,0)</text>
<text x="316" y="30.6" font-size="12.5" fill="#000" font-family='"Liberation Sans",sans-serif' text-anchor="start" font-weight="normal" textLength="81" lengthAdjust="spacingAndGlyphs">MA50:3772.10</text>
<text x="406.2" y="30.6" font-size="12.5" fill="#00008b" font-family='"Liberation Sans",sans-serif' text-anchor="start" font-weight="normal" textLength="73.2" lengthAdjust="spacingAndGlyphs">MA0:4082.37</text>
<text x="488.4" y="30.6" font-size="12.5" fill="#ff00ff" font-family='"Liberation Sans",sans-serif' text-anchor="start" font-weight="normal" textLength="87.8" lengthAdjust="spacingAndGlyphs">MA200:3322.25</text>
<text x="585.5" y="30.6" font-size="12.5" fill="#ff8000" font-family='"Liberation Sans",sans-serif' text-anchor="start" font-weight="normal" textLength="73.3" lengthAdjust="spacingAndGlyphs">MA0:4082.37</text>
<text x="622" y="102.2" font-size="12" fill="#d5403c" font-family='"Liberation Sans",sans-serif' text-anchor="start" font-weight="bold" textLength="44.6" lengthAdjust="spacingAndGlyphs">4381.29</text>
<text x="90.8" y="713.3" font-size="12.5" fill="#000" font-family='"Liberation Sans",sans-serif' text-anchor="start" font-weight="normal" textLength="77.8" lengthAdjust="spacingAndGlyphs">MACD(13,8,9)</text>
<text x="173.9" y="713.3" font-size="12.5" fill="#000" font-family='"Liberation Sans",sans-serif' text-anchor="start" font-weight="normal" textLength="57" lengthAdjust="spacingAndGlyphs">DIFF:21.41</text>
<text x="241" y="713.3" font-size="12.5" fill="#00008b" font-family='"Liberation Sans",sans-serif' text-anchor="start" font-weight="normal" textLength="55.7" lengthAdjust="spacingAndGlyphs">DEA:46.61</text>
<text x="306.7" y="713.3" font-size="12.5" fill="#ff00ff" font-family='"Liberation Sans",sans-serif' text-anchor="start" font-weight="normal" textLength="74.8" lengthAdjust="spacingAndGlyphs">MACD:-50.42</text>
<g fill="none"><circle cx="27" cy="705.9" r="3.5" stroke="#111" stroke-width="1.1"/><circle cx="27" cy="705.9" r="2" fill="#ff0000"/><path stroke="#ff0000" stroke-width="1.1" d="M27 698.9v2M27 710.9v2M20 705.9h2M32 705.9h2M21.3 700.2l1.6 1.6M31.1 710l1.6 1.6M32.7 700.2l-1.6 1.6M22.9 710l-1.6 1.6"/></g>
<text x="7.6" y="34.1" font-size="12" fill="#2b3040" font-family='"Liberation Sans","Noto Sans CJK SC",sans-serif' text-anchor="middle" font-weight="normal">分</text>
<text x="7.6" y="48.5" font-size="12" fill="#2b3040" font-family='"Liberation Sans","Noto Sans CJK SC",sans-serif' text-anchor="middle" font-weight="normal">时</text>
<text x="7.6" y="62.3" font-size="12" fill="#2b3040" font-family='"Liberation Sans","Noto Sans CJK SC",sans-serif' text-anchor="middle" font-weight="normal">图</text>
<text x="7.6" y="83.4" font-size="12" fill="#fff" font-family='"Liberation Serif","Noto Serif CJK SC",serif' text-anchor="middle" font-weight="normal">K</text>
<text x="7.6" y="97.4" font-size="12" fill="#fff" font-family='"Liberation Sans","Noto Sans CJK SC",sans-serif' text-anchor="middle" font-weight="normal">线</text>
<text x="7.6" y="111.5" font-size="12" fill="#fff" font-family='"Liberation Sans","Noto Sans CJK SC",sans-serif' text-anchor="middle" font-weight="normal">图</text>
<text x="7.6" y="133.70000000000002" font-size="12" fill="#2b3040" font-family='"Liberation Sans","Noto Sans CJK SC",sans-serif' text-anchor="middle" font-weight="normal">闪</text>
<text x="7.6" y="147.9" font-size="12" fill="#2b3040" font-family='"Liberation Sans","Noto Sans CJK SC",sans-serif' text-anchor="middle" font-weight="normal">电</text>
<text x="7.6" y="162.20000000000002" font-size="12" fill="#2b3040" font-family='"Liberation Sans","Noto Sans CJK SC",sans-serif' text-anchor="middle" font-weight="normal">图</text>
<text x="7.6" y="184.9" font-size="12" fill="#2b3040" font-family='"Liberation Sans","Noto Sans CJK SC",sans-serif' text-anchor="middle" font-weight="normal">合</text>
<text x="7.6" y="199.4" font-size="12" fill="#2b3040" font-family='"Liberation Sans","Noto Sans CJK SC",sans-serif' text-anchor="middle" font-weight="normal">约</text>
<text x="7.6" y="212.8" font-size="12" fill="#2b3040" font-family='"Liberation Sans","Noto Sans CJK SC",sans-serif' text-anchor="middle" font-weight="normal">资</text>
<text x="7.6" y="226.4" font-size="12" fill="#2b3040" font-family='"Liberation Sans","Noto Sans CJK SC",sans-serif' text-anchor="middle" font-weight="normal">料</text>
<text x="32.7" y="934" font-size="12" fill="#ff7a1a" font-family='"Liberation Sans","Noto Sans CJK SC",sans-serif' text-anchor="start" font-weight="bold" textLength="24.5" lengthAdjust="spacingAndGlyphs">日线</text>
<path d="M62.7 932.7L66.8 924.9L70.9 932.7Z" fill="#ff7a1a"/>
<text x="227" y="931.4" font-size="12" fill="#1e2330" font-family='"Liberation Sans",sans-serif' text-anchor="start" font-weight="bold" textLength="45" lengthAdjust="spacingAndGlyphs">2025/08</text>
<text x="374" y="931.4" font-size="12" fill="#1e2330" font-family='"Liberation Sans",sans-serif' text-anchor="start" font-weight="bold" textLength="45" lengthAdjust="spacingAndGlyphs">2025/09</text>
<text x="528.3" y="931.4" font-size="12" fill="#1e2330" font-family='"Liberation Sans",sans-serif' text-anchor="start" font-weight="bold" textLength="45" lengthAdjust="spacingAndGlyphs">2025/10</text>
<text x="38.0" y="951.2" font-size="12" fill="#fff" font-family='"Liberation Sans","Noto Sans CJK SC",sans-serif' text-anchor="middle" font-weight="normal" textLength="24" lengthAdjust="spacingAndGlyphs">指标</text>
<text x="77.5" y="951.2" font-size="12" fill="#222" font-family='"Liberation Sans","Noto Sans CJK SC",sans-serif' text-anchor="middle" font-weight="normal" textLength="24" lengthAdjust="spacingAndGlyphs">模板</text>
<text x="106" y="950.6" font-size="12" fill="#ff7a1a" font-family='"Liberation Serif","Noto Serif CJK SC",serif' text-anchor="start" font-weight="normal" textLength="17.5" lengthAdjust="spacingAndGlyphs">VIP</text>
<text x="123.8" y="951.2" font-size="12" fill="#ff7a1a" font-family='"Liberation Sans","Noto Sans CJK SC",sans-serif' text-anchor="start" font-weight="normal" textLength="23.5" lengthAdjust="spacingAndGlyphs">指标</text>
<text x="169.5" y="950" font-size="12" fill="#111" font-family='"Liberation Serif","Noto Serif CJK SC",serif' text-anchor="middle" font-weight="normal" textLength="11.5" lengthAdjust="spacingAndGlyphs">MA</text>
<text x="203.5" y="950" font-size="12" fill="#111" font-family='"Liberation Serif","Noto Serif CJK SC",serif' text-anchor="middle" font-weight="normal" textLength="23.5" lengthAdjust="spacingAndGlyphs">MACD</text>
<text x="243.5" y="950" font-size="12" fill="#111" font-family='"Liberation Serif","Noto Serif CJK SC",serif' text-anchor="middle" font-weight="normal" textLength="23.5" lengthAdjust="spacingAndGlyphs">BOLL</text>
<text x="280.5" y="950" font-size="12" fill="#111" font-family='"Liberation Serif","Noto Serif CJK SC",serif' text-anchor="middle" font-weight="normal" textLength="17.5" lengthAdjust="spacingAndGlyphs">VOL</text>
<text x="317.5" y="950" font-size="12" fill="#111" font-family='"Liberation Serif","Noto Serif CJK SC",serif' text-anchor="middle" font-weight="normal" textLength="23.5" lengthAdjust="spacingAndGlyphs">BIAS</text>
<text x="354.5" y="950" font-size="12" fill="#111" font-family='"Liberation Serif","Noto Serif CJK SC",serif' text-anchor="middle" font-weight="normal" textLength="17.5" lengthAdjust="spacingAndGlyphs">CCI</text>
<text x="388.5" y="950" font-size="12" fill="#111" font-family='"Liberation Serif","Noto Serif CJK SC",serif' text-anchor="middle" font-weight="normal" textLength="17.5" lengthAdjust="spacingAndGlyphs">KDJ</text>
<text x="425.5" y="950" font-size="12" fill="#111" font-family='"Liberation Serif","Noto Serif CJK SC",serif' text-anchor="middle" font-weight="normal" textLength="17.5" lengthAdjust="spacingAndGlyphs">LW&amp;</text>
<text x="462.5" y="950" font-size="12" fill="#111" font-family='"Liberation Serif","Noto Serif CJK SC",serif' text-anchor="middle" font-weight="normal" textLength="17.5" lengthAdjust="spacingAndGlyphs">RSI</text>
<text x="493.5" y="950" font-size="12" fill="#111" font-family='"Liberation Serif","Noto Serif CJK SC",serif' text-anchor="middle" font-weight="normal" textLength="11.5" lengthAdjust="spacingAndGlyphs">CR</text>
<text x="524.5" y="950" font-size="12" fill="#111" font-family='"Liberation Serif","Noto Serif CJK SC",serif' text-anchor="middle" font-weight="normal" textLength="17.5" lengthAdjust="spacingAndGlyphs">PSY</text>
<text x="561.5" y="951.2" font-size="12" fill="#222" font-family='"Liberation Sans","Noto Sans CJK SC",sans-serif' text-anchor="middle" font-weight="normal" textLength="23" lengthAdjust="spacingAndGlyphs">设置</text>
<text x="10.2" y="979" font-size="12" fill="#222" font-family='"Liberation Sans","Noto Sans CJK SC",sans-serif' text-anchor="start" font-weight="normal" textLength="24" lengthAdjust="spacingAndGlyphs">资讯</text>
<path d="M820 962.5L831.5 956L843 962.5Z" fill="#5a5a5e"/>
<text x="749.3 770.4 792.4 811.2 830.6" y="954" font-size="31" font-family='"Liberation Sans",sans-serif' fill="#c2aa94" opacity="0.85">FX678</text>
<text x="748.3 769.4 791.4 810.2 829.6" y="953.1" font-size="31" font-family='"Liberation Sans",sans-serif' fill="#dbe9f8">FX678</text>
<g fill="#3a3d46">
<path d="M12.4 2.5L18.9 -3.6V0.1C23.6 0.3 25.9 3.2 25.9 9C24.3 5.7 22.4 4.5 18.9 4.5V6.8Z"/>
<path d="M83.2 4.4L89.65 -2.2L96.1 4.4L95.3 5.2L94.1 4V9.7H91.1V5.8H88.5V9.7H85.3V4L84 5.2Z"/>
</g>
<text x="29" y="8.4" font-size="12.3" fill="#3a3d46" font-family='"Liberation Sans","Noto Sans CJK SC",sans-serif' text-anchor="start" font-weight="normal" textLength="24.3" lengthAdjust="spacingAndGlyphs">返回</text>
<text x="101" y="8.4" font-size="12.3" fill="#3a3d46" font-family='"Liberation Sans","Noto Sans CJK SC",sans-serif' text-anchor="start" font-weight="normal" textLength="24.3" lengthAdjust="spacingAndGlyphs">首页</text>
<path d="M179.2 6.2A7 7 0 1 1 176 -3.6" fill="none" stroke="#3a3d46" stroke-width="1.5"/><path d="M177.9 1.9h4.9l-2.4 4.2z" fill="#3a3d46"/><path d="M180.3 -3V2.5" stroke="#3a3d46" stroke-width="1.5"/>
<g fill="#3a3d46"><path d="M221.2 7.6L223.9 5.8V10.5H221.2Z"/><path d="M226 4.6L228.7 2.6V10.5H226Z"/><path d="M231.2 6.2L234 4.4V10.5H231.2Z"/><rect x="236.2" y="-3" width="2.7" height="13.5"/></g><path d="M221.2 4.8L227.5 -1M228.5 -1.5L231.6 2.2L235.5 -2" fill="none" stroke="#3a3d46" stroke-width="1.5"/>
<g fill="#3a3d46"><rect x="267.2" y="-3" width="3" height="8" rx="0.8"/><rect x="268.2" y="-6" width="1" height="12.6"/><rect x="272.7" y="-5" width="3" height="10" rx="0.8"/><rect x="273.7" y="-8" width="1" height="18.5"/><rect x="278.1" y="2.7" width="2.9" height="4.6" rx="0.8"/><rect x="279.1" y="-4" width="1" height="13.6"/><rect x="283.6" y="1.8" width="3" height="5.5" rx="0.8"/><rect x="284.6" y="-4" width="1" height="13.6"/></g>
<text x="324.5" y="8.8" font-size="15.5" fill="#3a3d46" font-family='"Liberation Sans",sans-serif' text-anchor="middle" font-weight="normal" textLength="25" lengthAdjust="spacingAndGlyphs">tick</text>
<text x="371.5" y="8.4" font-size="12.3" fill="#3a3d46" font-family='"Liberation Sans","Noto Sans CJK SC",sans-serif' text-anchor="middle" font-weight="normal">5日</text>
<text x="409" y="8.4" font-size="12.3" fill="#3a3d46" font-family='"Liberation Sans",sans-serif' text-anchor="middle" font-weight="normal">5</text>
<text x="437" y="8.4" font-size="12.3" fill="#3a3d46" font-family='"Liberation Sans",sans-serif' text-anchor="middle" font-weight="normal">15</text>
<text x="465" y="8.4" font-size="12.3" fill="#3a3d46" font-family='"Liberation Sans",sans-serif' text-anchor="middle" font-weight="normal">30</text>
<text x="493" y="8.4" font-size="12.3" fill="#3a3d46" font-family='"Liberation Sans",sans-serif' text-anchor="middle" font-weight="normal">60</text>
<text x="521" y="8.4" font-size="12.3" fill="#3a3d46" font-family='"Liberation Sans",sans-serif' text-anchor="middle" font-weight="normal">2H</text>
<text x="549" y="8.4" font-size="12.3" fill="#3a3d46" font-family='"Liberation Sans",sans-serif' text-anchor="middle" font-weight="normal">4H</text>
<text x="577" y="8.6" font-size="12.3" fill="#3a3d46" font-family='"Liberation Sans","Noto Sans CJK SC",sans-serif' text-anchor="middle" font-weight="normal">日</text>
<text x="605" y="8.6" font-size="12.3" fill="#3a3d46" font-family='"Liberation Sans","Noto Sans CJK SC",sans-serif' text-anchor="middle" font-weight="normal">周</text>
<text x="633" y="8.6" font-size="12.3" fill="#3a3d46" font-family='"Liberation Sans","Noto Sans CJK SC",sans-serif' text-anchor="middle" font-weight="normal">月</text>
<text x="661" y="8.6" font-size="12.3" fill="#3a3d46" font-family='"Liberation Sans","Noto Sans CJK SC",sans-serif' text-anchor="middle" font-weight="normal">年</text>
<g fill="#3a3d46"><rect x="689" y="2.5" width="13.8" height="2.6" rx="1.3"/><rect x="689" y="7.1" width="13.8" height="2.6" rx="1.3"/></g>
<text x="707.2" y="8.4" font-size="12.3" fill="#3a3d46" font-family='"Liberation Sans","Noto Sans CJK SC",sans-serif' text-anchor="start" font-weight="normal" textLength="24" lengthAdjust="spacingAndGlyphs">更多</text>
<text x="751.3" y="8.6" font-size="12" fill="#3a3d46" font-family='"Liberation Sans",sans-serif' text-anchor="start" font-weight="bold" textLength="7.4" lengthAdjust="spacingAndGlyphs">ƒ</text>
<text x="759.6" y="9.7" font-size="13" fill="#3a3d46" font-family='"Liberation Sans",sans-serif' text-anchor="start" font-weight="bold" textLength="7.4" lengthAdjust="spacingAndGlyphs">x</text>
<g fill="none" stroke="#3a3d46" stroke-width="1.3"><circle cx="797.1" cy="2.7" r="6.6"/><path d="M794 2.6h6M801.6 7.6L804.8 10.8"/><circle cx="844.4" cy="2.7" r="6.6"/><path d="M841.3 2.6h6M844.3 -0.5v6M848.9 7.6L852.1 10.8"/></g>
</svg>
</body></html>
